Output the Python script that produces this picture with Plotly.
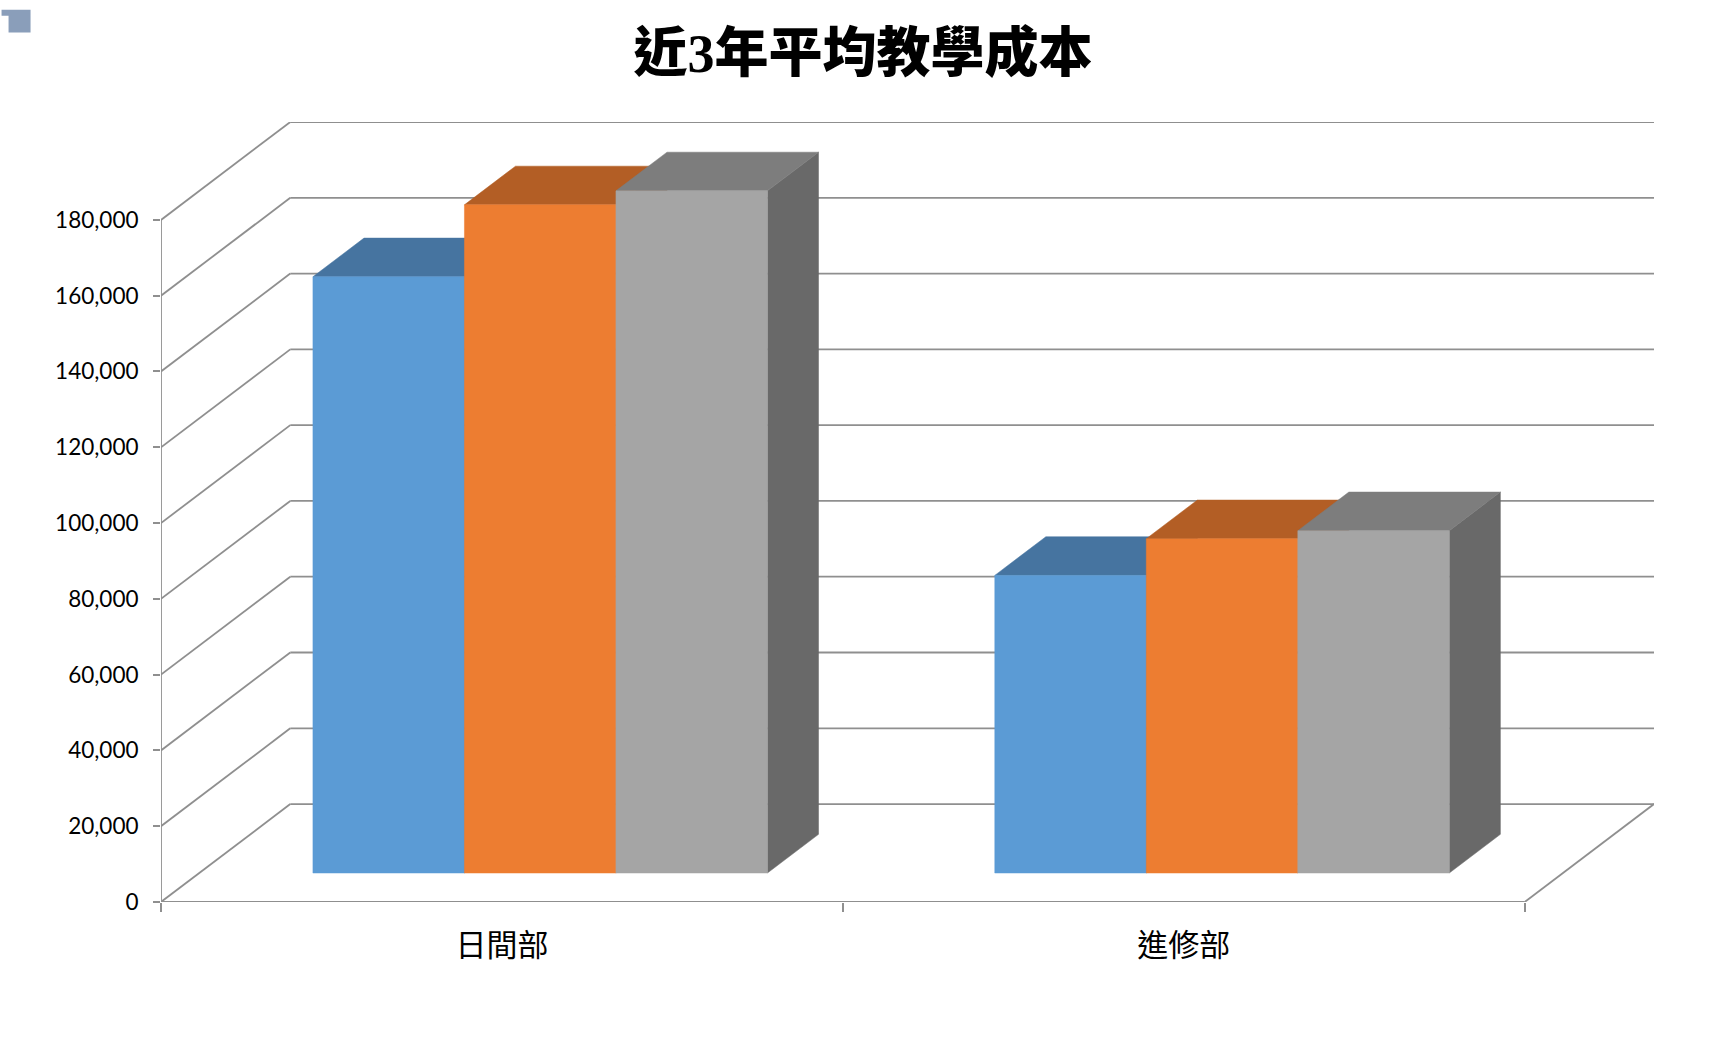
import plotly.graph_objects as go

categories = ["日間部", "進修部"]
series_names = ["系列1", "系列2", "系列3"]
day_values = [157350, 176330, 180020]
night_values = [78540, 88220, 90330]
tick_values = [0, 20000, 40000, 60000, 80000, 100000, 120000, 140000, 160000, 180000]
tick_labels = ["0", "20,000", "40,000", "60,000", "80,000", "100,000", "120,000", "140,000", "160,000", "180,000"]
title_text = "近3年平均教學成本"

front_colors = ["#5B9BD5", "#ED7D31", "#A5A5A5"]
top_colors = ["#4674A0", "#B35E25", "#7D7D7D"]
side_colors = ["#3E6890", "#9E5320", "#696969"]
GRID = "#8F8F8F"
W, H = 1720, 1063
L, R, T, B = 160.5, 1654, 121.5, 902.5

# oblique projection: depth z in 0..1 shifts x (category units) and y (value units)
DX = 0.1896
DY = 25840
BAR_W = 0.2222
Z0, Z1 = 0.296, 0.691
X_MIN, X_MAX = -0.5, 1.5
V_MAX = tick_values[-1]


def proj(x, v, z):
    return x + z * DX, v + z * DY


def poly(points, color, name):
    xs, ys = zip(*[proj(*p) for p in points])
    return go.Scatter(x=list(xs) + [xs[0]], y=list(ys) + [ys[0]], mode="lines", fill="toself",
                      fillcolor=color, line=dict(color=color, width=0.5), name=name,
                      hoverinfo="name", showlegend=False, cliponaxis=False)


def seg(a, b):
    pa, pb = proj(*a), proj(*b)
    return [pa[0], pb[0], None], [pa[1], pb[1], None]


fig = go.Figure()

# walls and floor
gx, gy = [], []
for v in tick_values:
    for a, b in [((X_MIN, v, 0), (X_MIN, v, 1)), ((X_MIN, v, 1), (X_MAX, v, 1))]:
        sx, sy = seg(a, b)
        gx += sx
        gy += sy
for a, b in [((X_MAX, 0, 0), (X_MAX, 0, 1)), ((X_MIN, 0, 0), (X_MAX, 0, 0)), ((X_MIN, 0, 0), (X_MIN, V_MAX, 0))]:
    sx, sy = seg(a, b)
    gx += sx
    gy += sy
fig.add_trace(go.Scatter(x=gx, y=gy, mode="lines", line=dict(color=GRID, width=1.8),
                         hoverinfo="skip", showlegend=False, cliponaxis=False))

# bars
for c, values in enumerate([day_values, night_values]):
    for s, val in enumerate(values):
        x0 = c + (s - 1.5) * BAR_W
        x1 = x0 + BAR_W
        fig.add_trace(poly([(x1, 0, Z0), (x1, 0, Z1), (x1, val, Z1), (x1, val, Z0)], side_colors[s], series_names[s]))
        fig.add_trace(poly([(x0, val, Z0), (x1, val, Z0), (x1, val, Z1), (x0, val, Z1)], top_colors[s], series_names[s]))
        fig.add_trace(poly([(x0, 0, Z0), (x1, 0, Z0), (x1, val, Z0), (x0, val, Z0)], front_colors[s], series_names[s]))

pw, ph = R - L, B - T
px = lambda v: (v - L) / pw
py = lambda v: (B - v) / ph
fig.add_shape(type="path", xref="paper", yref="paper", line_width=0, fillcolor="#8A9EBA", layer="above",
              path=f"M {px(1)} {py(9)} L {px(30)} {py(9)} L {px(30)} {py(32)} L {px(8)} {py(32)} "
                   f"L {px(8)} {py(15)} L {px(1)} {py(15)} Z")

fig.update_layout(
    width=W, height=H, autosize=False,
    margin=dict(l=L, r=W - R, t=T, b=H - B, pad=0),
    paper_bgcolor="white", plot_bgcolor="white", showlegend=False,
    title=dict(text=title_text, x=863 / W, xanchor="center", xref="container",
               y=1 - 53 / H, yanchor="middle",
               font=dict(family="Liberation Serif, Noto Sans CJK TC", size=54, color="black", weight=900)),
    xaxis=dict(range=[X_MIN, X_MAX + DX], tickmode="array", tickvals=[0, 1], ticktext=categories,
               ticks="", ticklen=0, showgrid=False, zeroline=False, showline=False,
               tickfont=dict(family="Noto Sans CJK TC", size=31, color="black"), ticklabelstandoff=22,
               minor=dict(tickmode="array", tickvals=[-0.5, 0.5, 1.5], ticks="outside", ticklen=9,
                          tickcolor=GRID, tickwidth=1.5, showgrid=False)),
    yaxis=dict(range=[0, V_MAX + DY], tickmode="array", tickvals=tick_values, ticktext=tick_labels,
               ticks="outside", ticklen=7, tickcolor=GRID, tickwidth=1.5, showgrid=False, zeroline=False,
               showline=False, tickfont=dict(family="Lato", size=22.5, color="black"), ticklabelstandoff=10),
)
fig.write_html("out.html", post_script="document.body.style.margin='0';",
               config=dict(displayModeBar=False))
